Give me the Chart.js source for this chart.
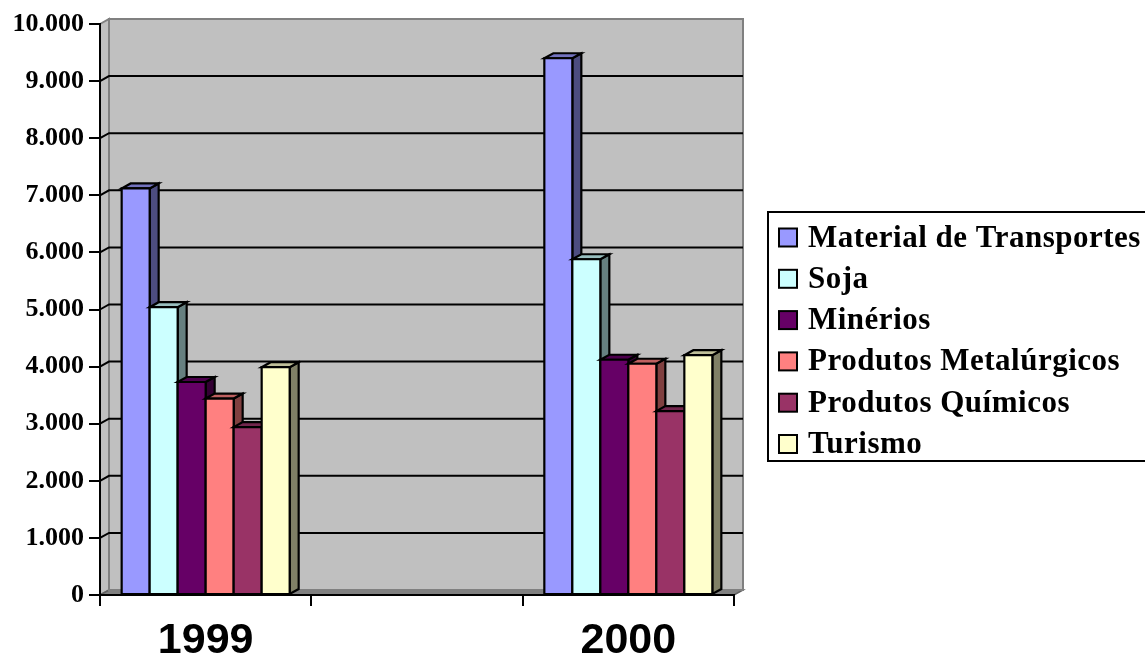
<!DOCTYPE html>
<html>
<head>
<meta charset="utf-8">
<script src="https://cdn.jsdelivr.net/npm/chart.js@4.4.1/dist/chart.umd.min.js"></script>
<style>
  html, body { margin: 0; padding: 0; background: #ffffff; }
  canvas { display: block; }
</style>
</head>
<body>
<canvas id="chart" width="1145" height="655"></canvas>
<script>
// Export categories (the middle slot is an empty spacer category)
const categories = ['1999', '', '2000'];

const seriesNames = [
  'Material de Transportes',
  'Soja',
  'Minérios',
  'Produtos Metalúrgicos',
  'Produtos Químicos',
  'Turismo'
];

// Values per category (1999, spacer, 2000)
const materialTransportes  = [7120, null, 9400];
const soja                 = [5040, null, 5880];
const minerios             = [3730, null, 4120];
const produtosMetalurgicos = [3440, null, 4050];
const produtosQuimicos     = [2940, null, 3220];
const turismo              = [3990, null, 4200];

const seriesValues = [materialTransportes, soja, minerios, produtosMetalurgicos, produtosQuimicos, turismo];

// Value axis ticks
const yTickValues = [0, 1000, 2000, 3000, 4000, 5000, 6000, 7000, 8000, 9000, 10000];

// Face colours: front, top (75%), side (50%)
const frontColors = ['#9999FF', '#CCFFFF', '#660066', '#FF8080', '#993366', '#FFFFCC'];
const topColors   = ['#7373BF', '#99BFBF', '#4D004D', '#BF6060', '#73264D', '#BFBF99'];
const sideColors  = ['#4D4D80', '#668080', '#330033', '#804040', '#4D1A33', '#808066'];

// Depth of the pseudo-3D projection
const DX = 9, DY = 5;

function formatThousands(v) {
  return String(v).replace(/\B(?=(\d{3})+(?!\d))/g, '.');
}

// Back wall, side wall, floor and gridlines
const wallsPlugin = {
  id: 'walls',
  beforeDraw(chart) {
    const { ctx, chartArea: a, scales } = chart;
    const y = scales.y;
    const yTop = y.getPixelForValue(10000);
    const yBot = y.getPixelForValue(0);
    ctx.save();
    // back wall
    ctx.fillStyle = '#C0C0C0';
    ctx.fillRect(a.left + DX, yTop - DY, a.right - a.left, yBot - yTop);
    // left side wall
    ctx.beginPath();
    ctx.moveTo(a.left, yTop);
    ctx.lineTo(a.left + DX, yTop - DY);
    ctx.lineTo(a.left + DX, yBot - DY);
    ctx.lineTo(a.left, yBot);
    ctx.closePath();
    ctx.fillStyle = '#C0C0C0';
    ctx.fill();
    ctx.strokeStyle = '#808080';
    ctx.lineWidth = 2;
    ctx.stroke();
    // floor
    ctx.beginPath();
    ctx.moveTo(a.left, yBot);
    ctx.lineTo(a.left + DX, yBot - DY);
    ctx.lineTo(a.right + DX, yBot - DY);
    ctx.lineTo(a.right, yBot);
    ctx.closePath();
    ctx.fillStyle = '#808080';
    ctx.fill();
    ctx.strokeStyle = '#606060';
    ctx.lineWidth = 1.5;
    ctx.stroke();
    // back wall border
    ctx.strokeStyle = '#808080';
    ctx.lineWidth = 2;
    ctx.strokeRect(a.left + DX, yTop - DY, a.right - a.left, yBot - yTop);
    // gridlines on back wall and side wall
    ctx.strokeStyle = '#000000';
    ctx.lineWidth = 2;
    yTickValues.forEach(v => {
      if (v === 0 || v === 10000) return;
      const py = y.getPixelForValue(v);
      ctx.beginPath();
      ctx.moveTo(a.left, py);
      ctx.lineTo(a.left + DX, py - DY);
      ctx.lineTo(a.right + DX, py - DY);
      ctx.stroke();
    });
    ctx.restore();
  }
};

// Draws each bar as a box: side, top, then front face
const boxBarsPlugin = {
  id: 'boxBars',
  beforeDatasetsDraw(chart) {
    const { ctx } = chart;
    ctx.save();
    ctx.lineWidth = 2.2;
    ctx.lineJoin = 'miter';
    ctx.strokeStyle = '#000000';
    for (let j = 0; j < categories.length; j++) {
      chart.data.datasets.forEach((ds, i) => {
        const v = ds.data[j];
        if (v === null || v === undefined) return;
        const el = chart.getDatasetMeta(i).data[j];
        const left = el.x - el.width / 2;
        const right = el.x + el.width / 2;
        const top = el.y;
        const bottom = el.base;
        // side face
        ctx.beginPath();
        ctx.moveTo(right, top);
        ctx.lineTo(right + DX, top - DY);
        ctx.lineTo(right + DX, bottom - DY);
        ctx.lineTo(right, bottom);
        ctx.closePath();
        ctx.fillStyle = sideColors[i];
        ctx.fill();
        ctx.stroke();
        // top face
        ctx.beginPath();
        ctx.moveTo(left, top);
        ctx.lineTo(left + DX, top - DY);
        ctx.lineTo(right + DX, top - DY);
        ctx.lineTo(right, top);
        ctx.closePath();
        ctx.fillStyle = topColors[i];
        ctx.fill();
        ctx.stroke();
        // front face
        ctx.beginPath();
        ctx.rect(left, top, right - left, bottom - top);
        ctx.fillStyle = frontColors[i];
        ctx.fill();
        ctx.stroke();
      });
    }
    ctx.restore();
    return false;
  }
};

// Boxed legend to the right of the plot
const legendBoxPlugin = {
  id: 'legendBox',
  afterDraw(chart) {
    const { ctx } = chart;
    const bx = 768, by = 212, bw = 400, bh = 249;
    ctx.save();
    ctx.fillStyle = '#FFFFFF';
    ctx.fillRect(bx, by, bw, bh);
    ctx.strokeStyle = '#000000';
    ctx.lineWidth = 2;
    ctx.strokeRect(bx, by, bw, bh);
    ctx.font = 'bold 31px "Liberation Serif", "Times New Roman", serif';
    ctx.letterSpacing = '0.5px';
    ctx.textBaseline = 'middle';
    ctx.textAlign = 'left';
    chart.data.datasets.forEach((ds, i) => {
      const cy = 237.5 + i * 41.3;
      ctx.fillStyle = ds.backgroundColor;
      ctx.fillRect(779, cy - 9, 18, 18);
      ctx.lineWidth = 2;
      ctx.strokeRect(779, cy - 9, 18, 18);
      ctx.fillStyle = '#000000';
      ctx.fillText(ds.label, 808, cy + 1);
    });
    ctx.restore();
  }
};

const datasets = seriesNames.map((name, i) => ({
  label: name,
  data: seriesValues[i],
  backgroundColor: frontColors[i],
  borderColor: '#000000',
  borderWidth: 2
}));

new Chart(document.getElementById('chart'), {
  type: 'bar',
  data: { labels: categories, datasets },
  options: {
    responsive: false,
    animation: false,
    devicePixelRatio: 1,
    layout: { padding: { top: 24, right: 411, bottom: 0, left: 0 } },
    datasets: { bar: { categoryPercentage: 0.795, barPercentage: 1.0 } },
    plugins: {
      legend: { display: false },
      tooltip: { enabled: false }
    },
    scales: {
      x: {
        grid: {
          display: true,
          offset: true,
          drawOnChartArea: false,
          drawTicks: true,
          tickLength: 11,
          color: '#000000',
          lineWidth: 2
        },
        border: { display: true, color: '#000000', width: 2 },
        ticks: {
          color: '#000000',
          padding: 9,
          font: { family: '"Liberation Sans", Arial, sans-serif', size: 43, weight: 'bold' }
        },
        afterFit(scale) { scale.height = 60; }
      },
      y: {
        min: 0,
        max: 10000,
        afterBuildTicks(scale) { scale.ticks = yTickValues.map(v => ({ value: v })); },
        grid: {
          drawOnChartArea: false,
          drawTicks: true,
          tickLength: 11,
          color: '#000000',
          lineWidth: 2
        },
        border: { display: true, color: '#000000', width: 2 },
        ticks: {
          color: '#000000',
          padding: 5,
          font: { family: '"Liberation Serif", "Times New Roman", serif', size: 26, weight: 'bold' },
          callback: (v) => formatThousands(v)
        },
        afterFit(scale) { scale.width = 100; }
      }
    }
  },
  plugins: [wallsPlugin, boxBarsPlugin, legendBoxPlugin]
});
</script>
</body>
</html>
